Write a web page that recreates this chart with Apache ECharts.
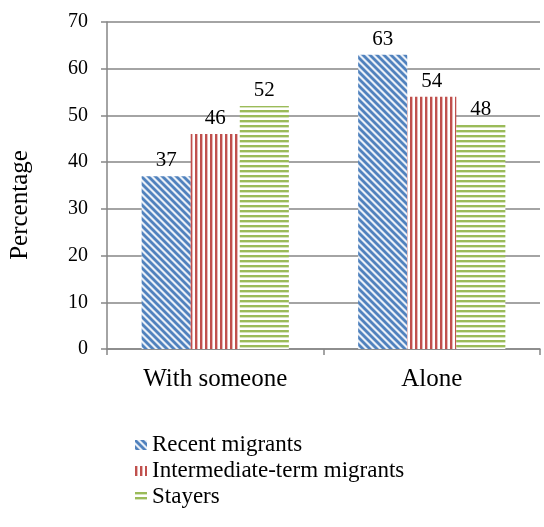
<!DOCTYPE html>
<html>
<head>
<meta charset="utf-8">
<script src="https://cdn.jsdelivr.net/npm/echarts@6/dist/echarts.min.js"></script>
<style>
  html, body { margin: 0; padding: 0; background: #fff; }
  #main { width: 544px; height: 527px; }
</style>
</head>
<body>
<div id="main"></div>
<script>
const categories = ['With someone', 'Alone']
const seriesNames = ['Recent migrants', 'Intermediate-term migrants', 'Stayers']
const recentValues = [37, 63]
const intermediateValues = [46, 54]
const stayerValues = [52, 48]
const yTicks = [0, 70, 10] // min, max, interval

// small striped tiles used as bar fills
function makeStripes(kind, dark, light) {
  const c = document.createElement('canvas')
  const s = kind === 'diag' ? 7 : 5
  c.width = s
  c.height = s
  const ctx = c.getContext('2d')
  ctx.fillStyle = '#fff'
  ctx.fillRect(0, 0, s, s)
  if (kind === 'diag') {
    ctx.strokeStyle = light
    ctx.lineWidth = 4
    ctx.beginPath()
    ctx.moveTo(-s, 0); ctx.lineTo(s, 2 * s)
    ctx.moveTo(0, 0); ctx.lineTo(s, s)
    ctx.moveTo(0, -s); ctx.lineTo(2 * s, s)
    ctx.stroke()
    ctx.strokeStyle = dark
    ctx.lineWidth = 2.4
    ctx.stroke()
  } else if (kind === 'vert') {
    ctx.fillStyle = light
    ctx.fillRect(0, 0, 4, s)
    ctx.fillStyle = '#fff'
    ctx.fillRect(3, 0, 1, s)
    ctx.fillStyle = dark
    ctx.fillRect(0, 0, 2, s)
  } else {
    ctx.fillStyle = light
    ctx.fillRect(0, 0, s, 4)
    ctx.fillStyle = '#fff'
    ctx.fillRect(0, 3, s, 1)
    ctx.fillStyle = dark
    ctx.fillRect(0, 0, s, 2)
  }
  return { image: c, repeat: 'repeat' }
}

const fills = [
  makeStripes('diag', '#4F81BD', '#B9CDE5'),
  makeStripes('vert', '#C0504D', '#E6B9B8'),
  makeStripes('horiz', '#9BBB59', '#D7E4BD')
]

const font = '"Liberation Serif", "Times New Roman", serif'
const chart = echarts.init(document.getElementById('main'))

const dataSets = [recentValues, intermediateValues, stayerValues]

const option = {
  animation: false,
  textStyle: { fontFamily: font },
  grid: { left: 107, right: 4, top: 22, bottom: 178 },
  graphic: [{
    type: 'text',
    x: 20,
    y: 205,
    rotation: Math.PI / 2,
    style: {
      text: 'Percentage',
      font: '25px ' + font,
      fill: '#000',
      align: 'center',
      verticalAlign: 'middle'
    }
  }],
  legend: {
    orient: 'vertical',
    left: 130,
    top: 427,
    itemWidth: 12,
    itemHeight: 10,
    itemGap: 0,
    icon: 'rect',
    data: seriesNames,
    textStyle: { fontFamily: font, fontSize: 23, lineHeight: 26, color: '#000' }
  },
  xAxis: {
    type: 'category',
    data: categories,
    axisLine: { lineStyle: { color: '#868686', width: 1.5 } },
    axisTick: { show: true, length: 6, lineStyle: { color: '#868686', width: 1.5 } },
    axisLabel: { fontFamily: font, fontSize: 25, color: '#000', margin: 18 }
  },
  yAxis: {
    type: 'value',
    min: yTicks[0],
    max: yTicks[1],
    interval: yTicks[2],
    axisLine: { show: true, lineStyle: { color: '#868686', width: 1.5 } },
    axisTick: { show: true, length: 6, lineStyle: { color: '#868686', width: 1.5 } },
    axisLabel: { fontFamily: font, fontSize: 20, color: '#000', margin: 19 },
    splitLine: { lineStyle: { color: '#868686', width: 1.5 } }
  },
  series: seriesNames.map((name, i) => ({
    name: name,
    type: 'bar',
    data: dataSets[i],
    barGap: '0%',
    barCategoryGap: '32%',
    itemStyle: { color: fills[i] },
    label: {
      show: true,
      position: 'top',
      distance: 5,
      fontFamily: font,
      fontSize: 21,
      color: '#000'
    }
  }))
}

chart.setOption(option)
</script>
</body>
</html>
